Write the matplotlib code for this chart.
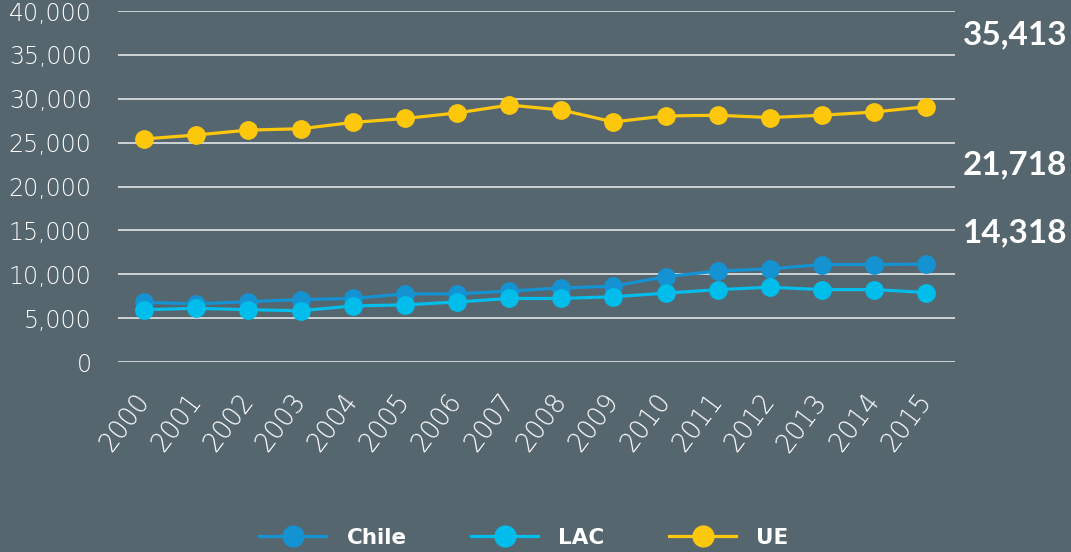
import matplotlib
matplotlib.use("Agg")
import matplotlib.pyplot as plt
from matplotlib.ticker import FuncFormatter

years = list(range(2000, 2016))
chile = [6800, 6630, 6870, 7120, 7240, 7760, 7760, 8080, 8440, 8640, 9720, 10370, 10610, 11110, 11110, 11150]
lac = [5960, 6120, 5960, 5840, 6390, 6510, 6840, 7240, 7240, 7440, 7840, 8250, 8520, 8250, 8250, 7920]
ue = [25420, 25870, 26430, 26580, 27300, 27750, 28380, 29280, 28720, 27360, 28040, 28120, 27860, 28120, 28490, 29100]
side_labels = ["35,413", "21,718", "14,318"]
series_names = ["Chile", "LAC", "UE"]

BG = "#56666F"
colors = {"Chile": "#1592D1", "LAC": "#00BDEB", "UE": "#FDC70C"}

plt.rcParams['font.family'] = ['DejaVu Sans']

fig = plt.figure(figsize=(10.71, 5.52), dpi=100, facecolor=BG)
ax = fig.add_axes([118/1071, 1-362/552, (955-118)/1071, (362-11)/552])
ax.set_facecolor(BG)

x = list(range(len(years)))
for name, vals in zip(series_names, [chile, lac, ue]):
    ax.plot(x, vals, color=colors[name], lw=2.3, marker='o', ms=12.5,
            label=name, zorder=3)

ax.set_ylim(0, 40000)
ax.set_xlim(-0.5, 15.55)
ax.set_yticks(range(0, 40001, 5000))
ax.yaxis.set_major_formatter(FuncFormatter(lambda v, p: f"{int(v):,}"))
ax.set_xticks(x)
ax.set_xticklabels([str(y) for y in years], rotation=53, ha='right',
                   va='center', rotation_mode='anchor')
for lab in ax.get_xticklabels() + ax.get_yticklabels():
    lab.set_fontweight('light')
ax.grid(axis='y', color='#E2E5E7', lw=1.2, zorder=1)
ax.grid(axis='x', visible=False)
for s in ax.spines.values():
    s.set_visible(False)
ax.tick_params(axis='y', length=0, pad=19, labelsize=17, labelcolor='white')
ax.tick_params(axis='x', length=0, pad=25, labelsize=18.5, labelcolor='white')

ys = [35, 165, 233]
for lab, yp in zip(side_labels, ys):
    fig.text(963/1071, 1-yp/552, lab, color='white', fontsize=24,
             fontweight='bold', ha='left', va='center', family='Lato')

leg = fig.legend(loc='center', bbox_to_anchor=(524/1071, 1-538/552), ncol=3,
                 frameon=False, handlelength=3.1, handletextpad=0.95,
                 columnspacing=3.0, prop={'weight': 'bold', 'size': 15.5},
                 markerscale=1.2)
for t in leg.get_texts():
    t.set_color('white')

fig.savefig("out.png", dpi=100, facecolor=BG)
